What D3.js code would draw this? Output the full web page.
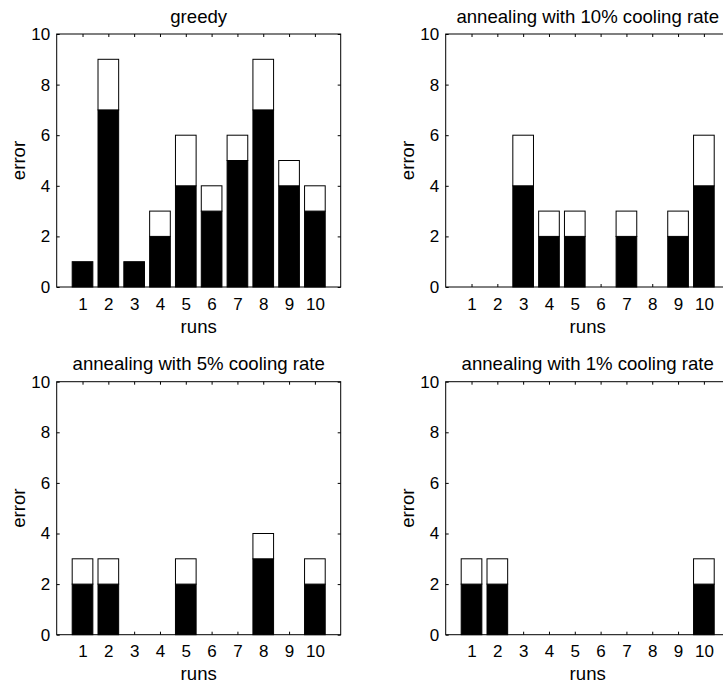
<!DOCTYPE html>
<html>
<head>
<meta charset="utf-8">
<script src="https://cdn.jsdelivr.net/npm/d3@7"></script>
<style>
  html, body { margin: 0; padding: 0; background: #fff; }
  svg { display: block; }
  text { font-family: "Liberation Sans", Arial, Helvetica, sans-serif; fill: #000; }
</style>
</head>
<body>
<svg id="chart" width="723" height="684"></svg>
<script>
// ---- data ----
const runs = [1, 2, 3, 4, 5, 6, 7, 8, 9, 10];
const yTicks = [0, 2, 4, 6, 8, 10];
const titles = ["greedy", "annealing with 10% cooling rate", "annealing with 5% cooling rate", "annealing with 1% cooling rate"];
// lower (black) segment of each bar
const greedyBase   = [1, 7, 1, 2, 4, 3, 5, 7, 4, 3];
const cool10Base   = [0, 0, 4, 2, 2, 0, 2, 0, 2, 4];
const cool5Base    = [2, 2, 0, 0, 2, 0, 0, 3, 0, 2];
const cool1Base    = [2, 2, 0, 0, 0, 0, 0, 0, 0, 2];
// upper (white) segment stacked on top
const greedyExtra  = [0, 2, 0, 1, 2, 1, 1, 2, 1, 1];
const cool10Extra  = [0, 0, 2, 1, 1, 0, 1, 0, 1, 2];
const cool5Extra   = [1, 1, 0, 0, 1, 0, 0, 1, 0, 1];
const cool1Extra   = [1, 1, 0, 0, 0, 0, 0, 0, 0, 1];

const panels = [
  { title: titles[0], base: greedyBase, extra: greedyExtra, col: 0, row: 0 },
  { title: titles[1], base: cool10Base, extra: cool10Extra, col: 1, row: 0 },
  { title: titles[2], base: cool5Base,  extra: cool5Extra,  col: 0, row: 1 },
  { title: titles[3], base: cool1Base,  extra: cool1Extra,  col: 1, row: 1 }
];

// ---- layout ----
const colX = [56.7, 445.7];
const rowY = [34, 381.7];
const W = 284, H = 253;
const tickFont = 17, labelFont = 18.6;

const svg = d3.select("#chart");

panels.forEach(p => {
  const g = svg.append("g").attr("transform", `translate(${colX[p.col]},${rowY[p.row]})`);
  const x = d3.scaleLinear().domain([0, 11]).range([0, W]);
  const y = d3.scaleLinear().domain([0, 10]).range([H, 0]);
  const bw = (x(1) - x(0)) * 0.8;

  // bars
  const data = runs.map((r, i) => ({ r, b: p.base[i], e: p.extra[i] }));
  g.selectAll("rect.base").data(data).enter().append("rect")
    .attr("class", "base")
    .attr("x", d => x(d.r) - bw / 2)
    .attr("width", bw)
    .attr("y", d => y(d.b))
    .attr("height", d => y(0) - y(d.b))
    .attr("fill", "#000")
    .attr("stroke", "#000")
    .attr("stroke-width", 1);
  g.selectAll("rect.extra").data(data.filter(d => d.e > 0)).enter().append("rect")
    .attr("class", "extra")
    .attr("x", d => x(d.r) - bw / 2)
    .attr("width", bw)
    .attr("y", d => y(d.b + d.e))
    .attr("height", d => y(d.b) - y(d.b + d.e))
    .attr("fill", "#fff")
    .attr("stroke", "#000")
    .attr("stroke-width", 1);

  // axes
  const ax = g.append("g").attr("transform", `translate(0,${H})`)
    .call(d3.axisBottom(x).tickValues(runs).tickSizeInner(-3).tickSizeOuter(0).tickPadding(10.5));
  const axT = g.append("g")
    .call(d3.axisTop(x).tickValues(runs).tickSizeInner(-3).tickSizeOuter(0).tickFormat(""));
  const ay = g.append("g")
    .call(d3.axisLeft(y).tickValues(yTicks).tickSizeInner(-3).tickSizeOuter(0).tickPadding(6.5));
  const ayR = g.append("g").attr("transform", `translate(${W},0)`)
    .call(d3.axisRight(y).tickValues(yTicks).tickSizeInner(-3).tickSizeOuter(0).tickFormat(""));
  [ax, axT, ay, ayR].forEach(a => {
    a.select(".domain").remove();
    a.selectAll(".tick line").attr("stroke", "#000");
    a.selectAll(".tick text").attr("font-size", tickFont)
      .attr("font-family", "'Liberation Sans', Arial, sans-serif").attr("fill", "#000");
  });

  // box
  g.append("rect").attr("x", 0).attr("y", 0).attr("width", W).attr("height", H)
    .attr("fill", "none").attr("stroke", "#000").attr("stroke-width", 1);

  // labels
  g.append("text").attr("x", W / 2).attr("y", -11.5)
    .attr("text-anchor", "middle").attr("font-size", labelFont).text(p.title);
  g.append("text").attr("x", W / 2).attr("y", H + 45.5)
    .attr("text-anchor", "middle").attr("font-size", labelFont).text("runs");
  g.append("text").attr("transform", `translate(-31.7,${H / 2}) rotate(-90)`)
    .attr("text-anchor", "middle").attr("font-size", labelFont).text("error");
});
</script>
</body>
</html>
